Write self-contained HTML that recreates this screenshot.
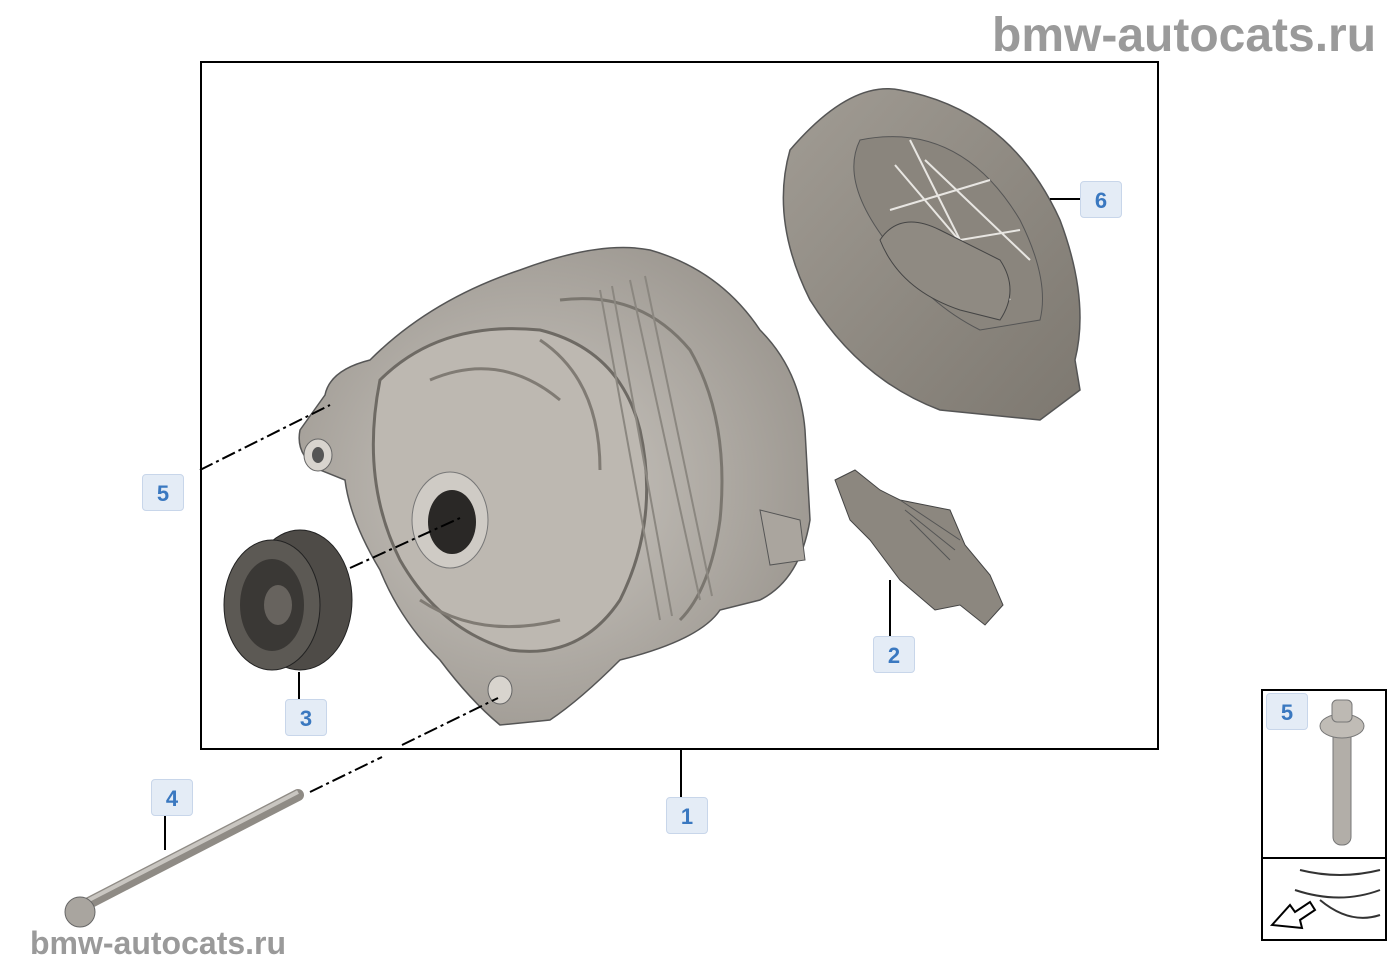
<!DOCTYPE html>
<html><head><meta charset="utf-8"><style>
html,body{margin:0;padding:0;background:#fff;}
body{width:1400px;height:980px;position:relative;overflow:hidden;font-family:"Liberation Sans",sans-serif;}
.wm{position:absolute;color:#9a9a9a;font-weight:bold;white-space:nowrap;}
.lb{position:absolute;width:42px;height:37px;background:#e4ecf6;border:1px solid #c8d6ea;border-radius:4px;color:#3a78c0;font-weight:bold;font-size:22px;text-align:center;line-height:37px;box-sizing:border-box;}
</style></head><body>
<svg width="1400" height="980" style="position:absolute;left:0;top:0">
<defs>
<radialGradient id="alt" cx="0.45" cy="0.5" r="0.6"><stop offset="0" stop-color="#cdc9c3"/><stop offset="1" stop-color="#9b968f"/></radialGradient>
<linearGradient id="cov" x1="0" y1="0" x2="1" y2="1"><stop offset="0" stop-color="#a19c94"/><stop offset="1" stop-color="#7d7870"/></linearGradient>
</defs>
<rect x="201" y="62" width="957" height="687" fill="none" stroke="#000" stroke-width="2"/>
<!-- cover 6 -->
<path d="M790 150 Q850 80 900 90 Q1010 110 1060 220 Q1090 300 1075 360 L1080 390 L1040 420 L940 410 Q860 380 810 300 Q770 220 790 150Z" fill="url(#cov)" stroke="#555" stroke-width="1.5"/>
<path d="M860 140 Q960 120 1020 220 Q1050 280 1040 320 L980 330 Q920 300 885 240 Q840 180 860 140Z" fill="#8a857d" stroke="#555"/>
<path d="M895 165 L1010 300 M925 160 L1030 260 M890 210 L990 180 M900 250 L1020 230 M910 140 L1000 320" stroke="#e8e6e2" stroke-width="2" fill="none"/>
<path d="M880 240 Q900 210 940 230 L1000 260 Q1020 290 1000 320 L960 310 Q900 290 880 240Z" fill="#8f8a82" stroke="#444"/>
<!-- alternator 1 -->
<path d="M325 395 Q330 370 370 360 Q430 300 520 270 Q600 240 650 250 Q720 270 760 330 Q800 370 805 430 L810 520 Q800 580 760 600 L720 610 Q700 640 620 660 Q580 700 550 720 L500 725 Q470 700 440 660 Q400 620 380 570 Q350 520 345 480 L320 470 Q295 455 300 430 Z" fill="url(#alt)" stroke="#555" stroke-width="1.5"/>
<path d="M380 380 Q440 320 540 330 Q620 350 640 430 Q660 520 620 600 Q580 660 510 650 Q440 630 400 560 Q360 480 380 380Z" fill="#bdb8b1" stroke="#6e6a64" stroke-width="3"/>
<path d="M430 380 Q500 350 560 400 M420 600 Q480 640 560 620 M540 340 Q600 380 600 470" fill="none" stroke="#807b74" stroke-width="3"/>
<path d="M560 300 Q640 290 690 350 Q730 420 720 520 Q710 590 680 620" fill="none" stroke="#7a766f" stroke-width="3"/>
<path d="M600 290 L660 620 M630 280 L700 600 M612 286 L672 616 M645 276 L712 596" stroke="#8b8780" stroke-width="2" fill="none"/>
<ellipse cx="450" cy="520" rx="38" ry="48" fill="#cfcbc5" stroke="#777"/>
<ellipse cx="452" cy="522" rx="24" ry="32" fill="#2a2826"/>
<ellipse cx="318" cy="455" rx="14" ry="16" fill="#d8d4ce" stroke="#666"/>
<ellipse cx="318" cy="455" rx="6" ry="8" fill="#555"/>
<ellipse cx="500" cy="690" rx="12" ry="14" fill="#d8d4ce" stroke="#666"/>
<path d="M760 510 L800 520 L805 560 L770 565 Z" fill="#aaa59e" stroke="#555"/>
<!-- pulley 3 -->
<ellipse cx="300" cy="600" rx="52" ry="70" fill="#4e4b47" stroke="#222"/>
<ellipse cx="272" cy="605" rx="48" ry="65" fill="#5c5954" stroke="#222"/>
<ellipse cx="272" cy="605" rx="32" ry="46" fill="#3a3835"/>
<ellipse cx="278" cy="605" rx="14" ry="20" fill="#67635e"/>
<!-- connector 2 -->
<path d="M835 480 L855 470 L880 490 L900 500 L950 510 L965 545 L990 575 L1003 605 L985 625 L960 605 L935 610 L900 580 L870 540 L850 520 Z" fill="#8c877f" stroke="#444"/>
<path d="M900 500 L960 540 M905 510 L955 550 M910 520 L950 560" stroke="#555" fill="none"/>
<!-- leaders -->
<line x1="890" y1="580" x2="890" y2="640" stroke="#000" stroke-width="2"/>
<line x1="299" y1="672" x2="299" y2="703" stroke="#000" stroke-width="2"/>
<line x1="1050" y1="199" x2="1085" y2="199" stroke="#000" stroke-width="2"/>
<line x1="681" y1="750" x2="681" y2="797" stroke="#000" stroke-width="2"/>
<line x1="165" y1="815" x2="165" y2="850" stroke="#000" stroke-width="2"/>
<line x1="200" y1="470" x2="330" y2="405" stroke="#000" stroke-width="2" stroke-dasharray="14 4 3 4"/>
<line x1="350" y1="568" x2="460" y2="518" stroke="#000" stroke-width="2" stroke-dasharray="14 4 3 4"/>
<line x1="402" y1="745" x2="498" y2="698" stroke="#000" stroke-width="2" stroke-dasharray="14 4 3 4"/>
<line x1="310" y1="792" x2="382" y2="757" stroke="#000" stroke-width="2" stroke-dasharray="14 4 3 4"/>
<!-- bolt 4 -->
<line x1="85" y1="905" x2="298" y2="795" stroke="#8f8b85" stroke-width="12" stroke-linecap="round"/>
<line x1="85" y1="902" x2="298" y2="792" stroke="#c9c6c1" stroke-width="4"/>
<circle cx="80" cy="912" r="15" fill="#a9a59f" stroke="#666"/>
<!-- inset -->
<rect x="1262" y="690" width="124" height="250" fill="none" stroke="#000" stroke-width="2"/>
<line x1="1262" y1="858" x2="1386" y2="858" stroke="#000" stroke-width="2"/>
<rect x="1333" y="725" width="18" height="120" rx="8" fill="#b2aea8" stroke="#777"/>
<ellipse cx="1342" cy="726" rx="22" ry="12" fill="#c0bcb6" stroke="#777"/>
<rect x="1332" y="700" width="20" height="22" rx="5" fill="#bdb9b3" stroke="#777"/>
<path d="M1300 870 Q1340 880 1380 870 M1295 890 Q1340 905 1380 890 M1320 900 Q1350 925 1380 915" stroke="#333" fill="none" stroke-width="2"/>
<path d="M1272 925 L1290 905 L1295 912 L1310 902 L1315 910 L1300 920 L1302 928 Z" fill="#fff" stroke="#000" stroke-width="2"/>
</svg>
<div class="wm" style="left:992px;top:8px;font-size:48px;">bmw-autocats.ru</div>
<div class="wm" style="left:30px;top:925px;font-size:32px;">bmw-autocats.ru</div>
<div class="lb" style="left:142px;top:474px;">5</div>
<div class="lb" style="left:285px;top:699px;">3</div>
<div class="lb" style="left:151px;top:779px;">4</div>
<div class="lb" style="left:666px;top:797px;">1</div>
<div class="lb" style="left:873px;top:636px;">2</div>
<div class="lb" style="left:1080px;top:181px;">6</div>
<div class="lb" style="left:1266px;top:693px;">5</div>
</body></html>
